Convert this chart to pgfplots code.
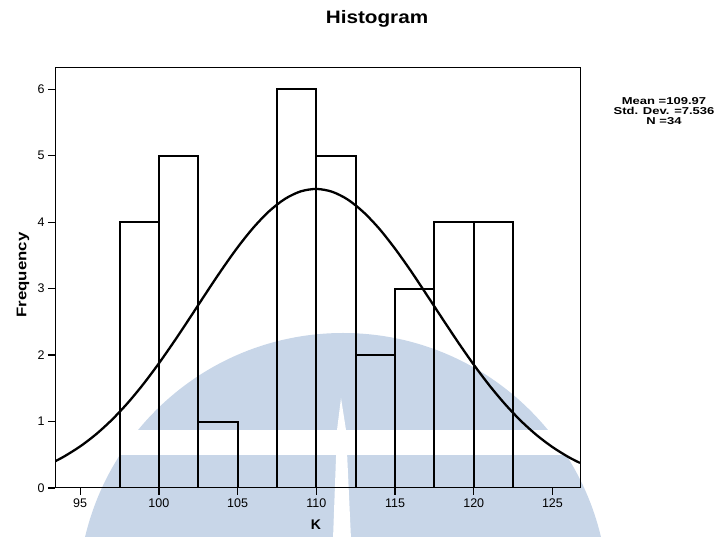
\documentclass[border=0pt]{standalone}
\usepackage{pgfplots}
\pgfplotsset{compat=1.18}
\usepackage{fontspec}
\setmainfont{Liberation Sans}
\definecolor{wm}{RGB}{200,214,232}
\begin{document}
\begin{tikzpicture}[x=1pt,y=1pt]
\useasboundingbox (0,0) rectangle (719,537);
% watermark (background decoration)
\begin{scope}
\clip (0,0) rectangle (719,537);
\fill[wm] (343,-61) circle[radius=265];
\fill[white] (0,82) rectangle (719,107);
\fill[white] (341,139) -- (337,107) -- (333,-2) -- (351,-2) -- (346,107) -- cycle;
\end{scope}
\begin{axis}[at={(55pt,49pt)}, anchor=south west,
  width=525pt, height=420pt, scale only axis,
  xmin=93.4, xmax=126.75, ymin=0, ymax=6.32,
  xtick={95,100,...,125}, ytick={0,1,...,6},
  xtick pos=bottom, ytick pos=left,
  tick align=outside, major tick length=7pt,
  tick style={line width=1.2pt, black},
  axis line style={line width=1pt},
  ticklabel style={font=\fontsize{12.5}{12.5}\selectfont},
  /pgf/number format/assume math mode=true,
  ]
\addplot[ybar interval, draw=black, fill=none, line width=2pt] coordinates {
  (97.5,4) (100,5) (102.5,1) (105,0) (107.5,6) (110,5) (112.5,2) (115,3) (117.5,4) (120,4) (122.5,4)};
\addplot[smooth, line width=2.3pt, black] coordinates {
  (93.4,0.401) (94,0.477) (95,0.626) (96,0.807) (97,1.023) (98,1.274) (99,1.560)
  (100,1.876) (101,2.216) (102,2.572) (103,2.934) (104,3.288) (105,3.621) (106,3.917)
  (107,4.164) (108,4.349) (109,4.463) (110,4.500) (111,4.458) (112,4.340) (113,4.150)
  (114,3.901) (115,3.601) (116,3.268) (117,2.912) (118,2.551) (119,2.195) (120,1.856)
  (121,1.542) (122,1.259) (123,1.009) (124,0.795) (125,0.616) (126,0.468) (126.75,0.377)};
\draw[line width=2.4pt] (rel axis cs:0,1) -- (rel axis cs:0,0) -- (rel axis cs:1,0);
\end{axis}
\node[font=\bfseries\fontsize{18}{18}\selectfont] at (377,518) {\scalebox{1.15}[1]{Histogram}};
\node[rotate=90, font=\bfseries\fontsize{14}{14}\selectfont] at (23,262) {\scalebox{1.2}[1]{Frequency}};
\node[font=\bfseries\fontsize{14}{14}\selectfont] at (316,12) {K};
\node[align=center, font=\bfseries\fontsize{10}{10}\selectfont, inner sep=0pt] at (664,426)
  {\scalebox{1.3}[1]{Mean =109.97}\\\scalebox{1.3}[1]{Std. Dev. =7.536}\\\scalebox{1.3}[1]{N =34}};
\end{tikzpicture}
\end{document}
